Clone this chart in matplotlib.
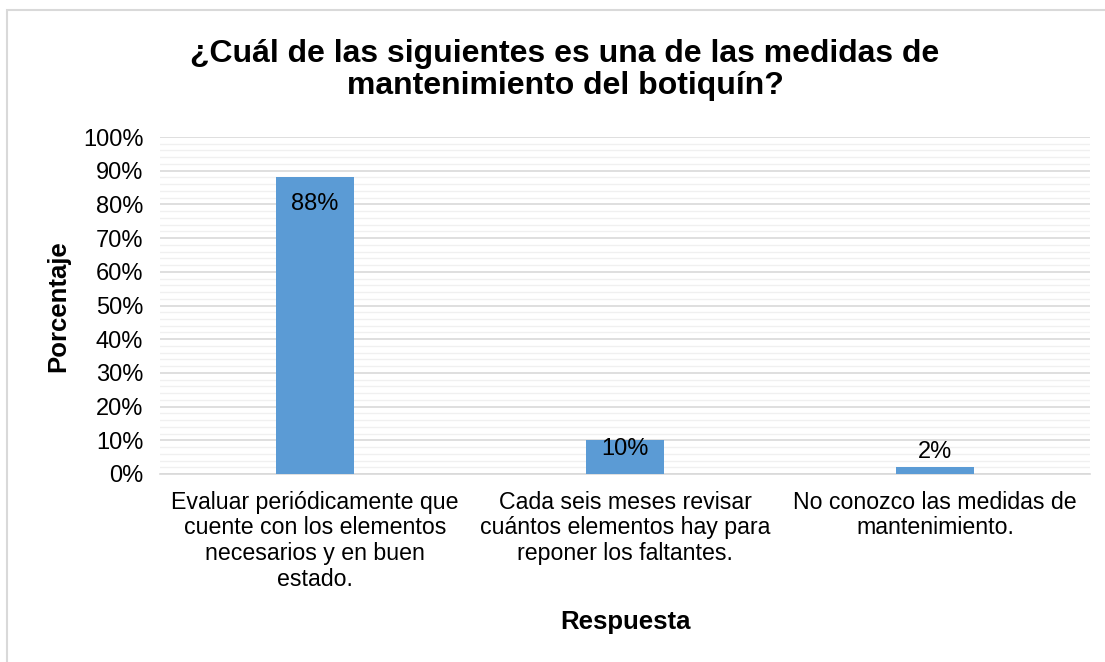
import numpy as np
import matplotlib.pyplot as plt
from matplotlib.patches import Rectangle
from matplotlib.ticker import MultipleLocator, PercentFormatter

categorias = ["Evaluar periódicamente que\ncuente con los elementos\nnecesarios y en buen\nestado.",
              "Cada seis meses revisar\ncuántos elementos hay para\nreponer los faltantes.",
              "No conozco las medidas de\nmantenimiento."]
porcentajes = [88, 10, 2]
posicion_etiqueta = ["in", "in", "out"]

plt.rcParams['font.family'] = ['Liberation Sans', 'DejaVu Sans']

fig = plt.figure(figsize=(11.05, 6.62), dpi=100)
ax = fig.add_axes([160/1105, 1 - 474/662, 930/1105, 337/662])

# Marco del gráfico
fig.patches.append(Rectangle((7/1105, -0.01), 1.0, 1 - 10/662 + 0.01,
                             transform=fig.transFigure, fill=False,
                             edgecolor='#d9d9d9', linewidth=1.5))

x = np.arange(len(categorias))
bars = ax.bar(x, porcentajes, width=0.25, color='#5b9bd5', zorder=3)

for b, v, pos in zip(bars, porcentajes, posicion_etiqueta):
    cx = b.get_x() + b.get_width()/2
    if pos == "in":
        # dentro del extremo; en barras cortas la etiqueta sube hacia el borde
        yc = v - 8 if v > 20 else v - 2.7
        ax.text(cx, yc, f"{v}%", ha='center', va='center', fontsize=17, color='#000000', zorder=4)
    else:
        ax.text(cx, v + 1.2, f"{v}%", ha='center', va='bottom', fontsize=17, color='#000000', zorder=4)

ax.set_xlim(-0.5, 2.5)
ax.set_ylim(0, 100)
ax.yaxis.set_major_locator(MultipleLocator(10))
ax.yaxis.set_minor_locator(MultipleLocator(2))
ax.yaxis.set_major_formatter(PercentFormatter(decimals=0))
ax.grid(axis='y', which='major', color='#d9d9d9', linewidth=1.2, zorder=0)
ax.grid(axis='y', which='minor', color='#f0f0f0', linewidth=1.0, zorder=0)
ax.tick_params(axis='y', which='both', length=0, labelsize=17, pad=12)
ax.tick_params(axis='x', length=0, labelsize=16.7, pad=12)
ax.set_xticks(x)
ax.set_xticklabels(categorias, linespacing=1.15)
for s in ['top', 'right', 'left']:
    ax.spines[s].set_visible(False)
ax.spines['bottom'].set_color('#d9d9d9')
ax.spines['bottom'].set_linewidth(1.2)

fig.text(58/1105, 1 - 306/662, "Porcentaje", ha='center', va='center', rotation=90,
         fontsize=18.5, fontweight='bold')
fig.text(626/1105, 1 - 622/662, "Respuesta", ha='center', va='center', fontsize=18.5, fontweight='bold')
fig.text(565/1105, 1 - 70/662, "¿Cuál de las siguientes es una de las medidas de\nmantenimiento del botiquín?",
         ha='center', va='center', fontsize=23, fontweight='bold', linespacing=1.05)

fig.savefig("out.png", dpi=100)
